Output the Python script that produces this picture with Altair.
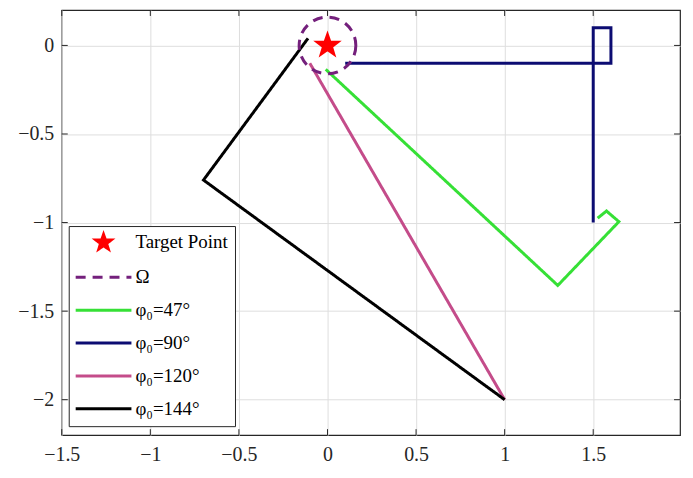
import math
import altair as alt
import pandas as pd

# ---------------- data ----------------
series = ["Target Point", "Ω", "φ₀=47°", "φ₀=90°", "φ₀=120°", "φ₀=144°"]
colors = ["#ff0000", "#74207c", "#36e036", "#0c0c72", "#c44c8a", "#000000"]
dashes = [[1, 0], [10, 7], [1, 0], [1, 0], [1, 0], [1, 0]]

target_x = [0.0]
target_y = [0.0]
omega_r = 0.16

g47_x = [-0.01, 1.30, 1.645, 1.575, 1.525]
g47_y = [-0.135, -1.355, -0.995, -0.935, -0.975]
b90_x = [0.10, 1.60, 1.60, 1.50, 1.50]
b90_y = [-0.10, -0.10, 0.10, 0.10, -1.00]
m120_x = [1.00, -0.10]
m120_y = [-2.00, -0.10]
k144_x = [1.00, -0.70, -0.11]
k144_y = [-2.00, -0.76, 0.04]

x_ticks = [-1.5, -1, -0.5, 0, 0.5, 1, 1.5]
y_ticks = [-2, -1.5, -1, -0.5, 0]
x_dom = [-1.5, 1.99]
y_dom = [-2.2, 0.2]

# ---------------- layout ----------------
W, H = 621, 427
px_per_unit = W / (x_dom[1] - x_dom[0])

rows = []
for name, xs_, ys_ in [(series[2], g47_x, g47_y), (series[3], b90_x, b90_y),
                       (series[4], m120_x, m120_y), (series[5], k144_x, k144_y)]:
    for i, (a, b) in enumerate(zip(xs_, ys_)):
        rows.append({"series": name, "x": a, "y": b, "order": i})
df_lines = pd.DataFrame(rows)
df_target = pd.DataFrame({"series": [series[0]], "x": target_x, "y": target_y})
df_omega = pd.DataFrame({"series": [series[1]], "x": target_x, "y": target_y})


def star_path(cx, R, inner=0.4):
    pts = []
    for k in range(10):
        ang = math.radians(-90 + 36 * k)
        rr = R if k % 2 == 0 else R * inner
        pts.append(f"{cx + rr * math.cos(ang):.3f},{rr * math.sin(ang):.3f}")
    return "M" + "L".join(pts) + "Z"


legend_line = "M-1.19,0H5.81"
legend_shapes = [star_path(2.31, 1.0)] + [legend_line] * 5
plot_star = star_path(0, 1.0)

font = "Liberation Serif"
xs = alt.Scale(domain=x_dom, nice=False, zero=False)
ys = alt.Scale(domain=y_dom, nice=False, zero=False)
xaxis = alt.Axis(values=x_ticks, format="~g", grid=True, gridColor="#dedede", gridWidth=1,
                 ticks=False, domain=False, labelFont=font, labelFontSize=20,
                 labelColor="#262626", labelPadding=9, labelFlush=False, title=None)
yaxis = alt.Axis(values=y_ticks, format="~g", grid=True, gridColor="#dedede", gridWidth=1,
                 ticks=False, domain=False, labelFont=font, labelFontSize=20,
                 labelColor="#262626", labelPadding=8, minExtent=54, maxExtent=54, title=None)

leg = alt.Legend(orient="none", legendX=7, legendY=217, direction="vertical", title=None,
                 labelFont=font, labelFontSize=19, labelColor="#000000", labelOffset=41,
                 padding=7, rowPadding=13, symbolSize=256, symbolStrokeWidth=3,
                 strokeColor="#262626", fillColor="#ffffff", labelLimit=200)

sc_stroke = alt.Scale(domain=series, range=colors)
sc_fill = alt.Scale(domain=series, range=colors)
sc_dash = alt.Scale(domain=series, range=dashes)
sc_shape = alt.Scale(domain=series, range=legend_shapes)


def X(f):
    return alt.X(f, scale=xs, axis=xaxis, title=None)


def Y(f):
    return alt.Y(f, scale=ys, axis=yaxis, title=None)


lines = alt.Chart(df_lines).mark_line(strokeWidth=3).encode(
    x=X("x:Q"), y=Y("y:Q"),
    stroke=alt.Stroke("series:N", scale=sc_stroke, legend=leg),
    strokeDash=alt.StrokeDash("series:N", scale=sc_dash, legend=leg),
    order="order:Q",
)

omega_size = (2 * omega_r * px_per_unit) ** 2
omega = alt.Chart(df_omega).mark_point(filled=False, opacity=1, strokeWidth=3, size=omega_size).encode(
    x=X("x:Q"), y=Y("y:Q"),
    stroke=alt.Stroke("series:N", scale=sc_stroke, legend=leg),
    strokeDash=alt.StrokeDash("series:N", scale=sc_dash, legend=leg),
)

star = alt.Chart(df_target).mark_point(filled=True, opacity=1, strokeWidth=3, shape=plot_star, size=441).encode(
    x=X("x:Q"), y=Y("y:Q"),
    fill=alt.Fill("series:N", scale=sc_fill, legend=leg),
    stroke=alt.Stroke("series:N", scale=sc_stroke, legend=leg),
)

dummy = alt.Chart(alt.InlineData(values=[])).mark_point(filled=True, opacity=1, strokeWidth=3).encode(
    x=X("x:Q"), y=Y("y:Q"),
    shape=alt.Shape("series:N", scale=sc_shape, legend=leg),
)

df_xt = pd.DataFrame({"v": x_ticks})
df_yt = pd.DataFrame({"v": y_ticks})
tick_col = "#262626"
tb = alt.Chart(df_xt).mark_rule(color=tick_col, strokeWidth=1).encode(x=X("v:Q"), y=alt.value(H), y2=alt.value(H - 6))
tt = alt.Chart(df_xt).mark_rule(color=tick_col, strokeWidth=1).encode(x=X("v:Q"), y=alt.value(0), y2=alt.value(6))
tl = alt.Chart(df_yt).mark_rule(color=tick_col, strokeWidth=1).encode(y=Y("v:Q"), x=alt.value(0), x2=alt.value(6))
tr = alt.Chart(df_yt).mark_rule(color=tick_col, strokeWidth=1).encode(y=Y("v:Q"), x=alt.value(W), x2=alt.value(W - 6))

chart = alt.layer(lines, omega, star, dummy, tb, tt, tl, tr).properties(
    width=W, height=H, padding={"left": 0, "top": 0, "right": 4, "bottom": 0},
    background="#ffffff",
).configure_view(stroke="#262626", strokeWidth=1.2)

chart.save("out.html", embed_options={"renderer": "svg", "actions": False})
